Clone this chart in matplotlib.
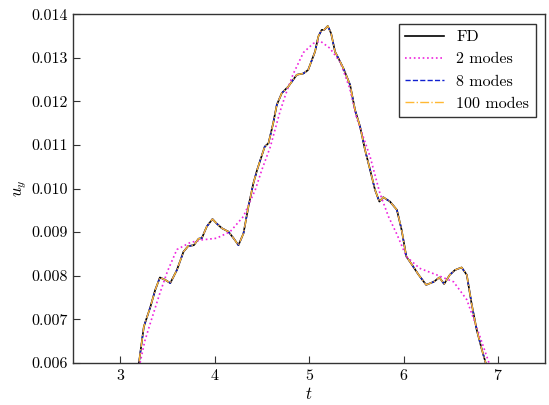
import numpy as np
import matplotlib.pyplot as plt

plt.rcParams['font.family'] = 'serif'
plt.rcParams['font.serif'] = ['cmr10', 'DejaVu Serif']
plt.rcParams['mathtext.fontset'] = 'cm'
plt.rcParams['axes.formatter.use_mathtext'] = True

# FD curve (8 and 100 modes lie on top of it)
t_fd = [3.17, 3.20, 3.25, 3.32, 3.37, 3.42, 3.48, 3.53, 3.60, 3.67, 3.72, 3.78,
        3.83, 3.864, 3.917, 3.977, 4.02, 4.076, 4.146, 4.20, 4.252, 4.305, 4.358,
        4.41, 4.45, 4.53, 4.57, 4.62, 4.658, 4.711, 4.78, 4.87, 4.94, 4.99, 5.063,
        5.098, 5.134, 5.16, 5.198, 5.233, 5.275, 5.31, 5.363, 5.434, 5.487, 5.54,
        5.593, 5.646, 5.698, 5.744, 5.786, 5.857, 5.93, 5.98, 6.03, 6.09, 6.16,
        6.24, 6.32, 6.38, 6.43, 6.49, 6.545, 6.615, 6.67, 6.72, 6.775, 6.83, 6.87,
        6.90]
u_fd = [0.00570, 0.00603, 0.00683, 0.00729, 0.00767, 0.00796, 0.00790, 0.00783,
        0.00813, 0.00855, 0.00868, 0.00870, 0.00885, 0.00886, 0.00913, 0.00930,
        0.00920, 0.00909, 0.00901, 0.00886, 0.00870, 0.00897, 0.00959, 0.01012,
        0.01043, 0.01096, 0.01104, 0.01150, 0.01192, 0.01219, 0.01234, 0.01261,
        0.01264, 0.01272, 0.01314, 0.01349, 0.01364, 0.01364, 0.01373, 0.01356,
        0.01314, 0.01299, 0.01276, 0.01238, 0.01180, 0.01142, 0.01088, 0.01043,
        0.00997, 0.00970, 0.00980, 0.00970, 0.00951, 0.00905, 0.00844, 0.00825,
        0.00802, 0.00779, 0.00786, 0.00796, 0.00781, 0.00802, 0.00813, 0.00819,
        0.00802, 0.00737, 0.00676, 0.00630, 0.00600, 0.00570]
t_8 = t_fd
u_8 = u_fd
t_100 = t_fd
u_100 = u_fd

# 2 modes
t_2 = [3.19, 3.21, 3.26, 3.32, 3.42, 3.50, 3.60, 3.74, 3.86, 4.02, 4.164, 4.305,
       4.43, 4.50, 4.59, 4.69, 4.75, 4.83, 4.94, 5.045, 5.12, 5.22, 5.33, 5.43,
       5.50, 5.646, 5.75, 5.84, 5.93, 6.03, 6.17, 6.35, 6.53, 6.67, 6.81, 6.905,
       6.93]
u_2 = [0.00560, 0.00600, 0.00650, 0.00692, 0.00760, 0.00810, 0.00860, 0.00876,
       0.00882, 0.00886, 0.00901, 0.00936, 0.00997, 0.01043, 0.01096, 0.01175,
       0.01215, 0.01262, 0.01312, 0.01333, 0.01338, 0.01322, 0.01290, 0.01230,
       0.01165, 0.01073, 0.00989, 0.00936, 0.00895, 0.00844, 0.00817, 0.00802,
       0.00786, 0.00745, 0.00660, 0.00600, 0.00570]

fig = plt.figure(figsize=(5.49, 4.05), dpi=100)
ax = fig.add_axes([0.133, 0.104, 0.860, 0.861])

ax.plot(t_fd, u_fd, color='black', lw=1.2, label='FD')
ax.plot(t_2, u_2, color='#ee22dd', ls=':', lw=1.2, label='2 modes')
ax.plot(t_8, u_8, color='#1020d0', ls='--', lw=1.0, label='8 modes')
ax.plot(t_100, u_100, color='#ffb833', ls='-.', lw=1.0, label='100 modes')

ax.set_xlim(2.5, 7.5)
ax.set_ylim(0.006, 0.014)
ax.set_xticks([3, 4, 5, 6, 7])
ax.set_yticks(np.arange(0.006, 0.0141, 0.001))
ax.set_yticklabels(['0.006', '0.007', '0.008', '0.009', '0.010', '0.011',
                    '0.012', '0.013', '0.014'])
ax.tick_params(direction='in', length=5, labelsize=11.5, color='#333333')
for s in ax.spines.values():
    s.set_color('#333333')
    s.set_linewidth(1.0)

ax.set_xlabel('$t$', fontsize=12, labelpad=2)
ax.set_ylabel('$u_y$', fontsize=12, labelpad=2)

leg = ax.legend(loc='upper right', fontsize=11.5, fancybox=False,
                edgecolor='#333333', framealpha=1, handlelength=2.4,
                borderaxespad=0.6)
leg.get_frame().set_linewidth(1.0)

fig.savefig('out.png', dpi=100)
